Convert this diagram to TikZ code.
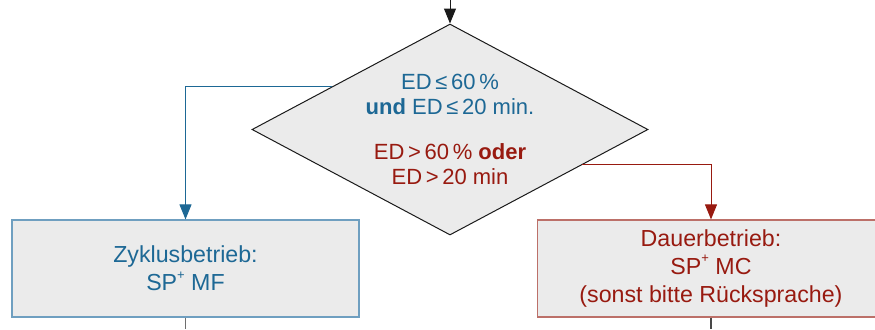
\documentclass[tikz,border=0pt]{standalone}
\usepackage{fontspec}
\setmainfont{Liberation Sans}
\usetikzlibrary{arrows.meta,positioning,shapes.geometric}
\definecolor{ink}{HTML}{1A1A1A}
\definecolor{cyclblue}{HTML}{1D6895}
\definecolor{cycledge}{HTML}{6F9FC0}
\definecolor{contred}{HTML}{981A10}
\definecolor{contedge}{HTML}{BC7069}
\definecolor{boxgray}{HTML}{EBEBEB}
\definecolor{stemgray}{HTML}{6E6E6E}
\newcommand{\plussup}{\raisebox{.5em}{\fontsize{6.5}{6.5}\selectfont+}}
\tikzset{
decision/.style={diamond,draw=ink,fill=boxgray,line width=.5pt,aspect=1.88,inner sep=0pt,minimum width=198pt,minimum height=105.5pt,align=center,font=\fontsize{11}{12.5}\selectfont},
modebox/.style={rectangle,fill=boxgray,line width=.6pt,minimum width=173.5pt,minimum height=48.5pt,align=center,font=\fontsize{11.6}{13.9}\selectfont},
cyclbox/.style={modebox,draw=cycledge,text=cyclblue},
contbox/.style={modebox,draw=contedge,text=contred},
flow/.style={-{Triangle[length=7.5pt,width=6pt]},line width=.5pt},
stem/.style={line width=.6pt,draw=stemgray}}
\begin{document}
\begin{tikzpicture}[x=0.5pt,y=-0.5pt]
\useasboundingbox (0,0) rectangle (875,329);
\coordinate (entry) at (450,0);
\node[decision] (check) at (450,129.5) {{\color{cyclblue}ED\,≤\,60\,\%}\\{\color{cyclblue}\textbf{und} ED\,≤\,20 min.}\\[10pt]{\color{contred}ED\,>\,60\,\% \textbf{oder}}\\{\color{contred}ED\,>\,20 min}};
\node[cyclbox] (cycle) at (185.5,268.5) {Zyklusbetrieb:\\SP\plussup\ MF};
\node[contbox] (cont) at (711,268.5) {Dauerbetrieb:\\SP\plussup\ MC\\(sonst bitte Rücksprache)};
\coordinate (cycleout) at (185.5,329);
\coordinate (contout) at (711,329);
\draw[flow,draw=ink] (entry)--(check.north);
\draw[flow,draw=cyclblue] (check.160) -| (cycle.north);
\draw[flow,draw=contred] (check.-15.5) -| (cont.north);
\draw[stem] (cycle.south)--(cycleout);
\draw[stem,draw=ink!80] (cont.south)--(contout);
\end{tikzpicture}
\end{document}
